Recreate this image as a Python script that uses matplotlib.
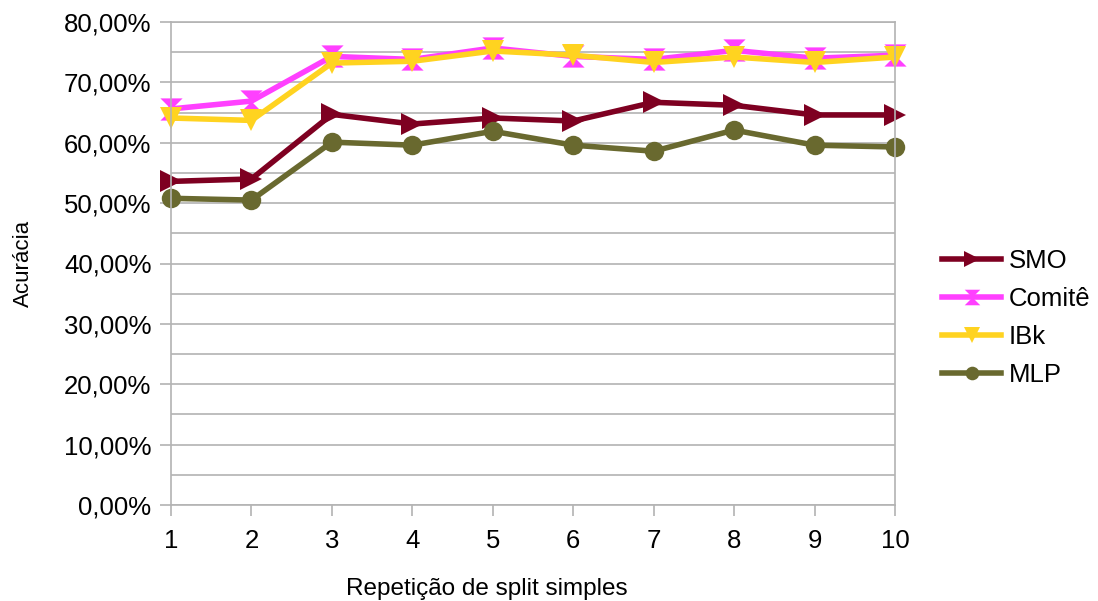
import numpy as np
import matplotlib.pyplot as plt
from matplotlib.ticker import FuncFormatter, MultipleLocator

plt.rcParams['font.family'] = ['Liberation Sans', 'DejaVu Sans']

# data (accuracy, %)
reps = np.arange(1, 11)
smo = [53.6, 54.0, 64.7, 63.1, 64.1, 63.6, 66.7, 66.2, 64.6, 64.6]
comite = [65.6, 66.9, 74.3, 73.8, 75.7, 74.3, 73.8, 75.3, 74.0, 74.5]
ibk = [64.1, 63.7, 73.2, 73.5, 75.2, 74.5, 73.3, 74.2, 73.3, 74.2]
mlp = [50.8, 50.5, 60.1, 59.6, 61.9, 59.6, 58.6, 62.1, 59.6, 59.3]

names = ["SMO", "Comitê", "IBk", "MLP"]
colors = ["#7e0021", "#ff40ff", "#ffd320", "#69692f"]

# hourglass marker like the spreadsheet one
hourglass = [(-1, 1), (1, 1), (0, 0), (1, -1), (-1, -1), (0, 0)]
markers = [">", hourglass, "v", "o"]
msizes = [16, 16, 16, 14]

fig = plt.figure(figsize=(10.98, 6.01), dpi=100)
ax = fig.add_axes([171/1098, 1 - 505/601, (895 - 171)/1098, (505 - 22)/601])

for vals, name, col, mk, ms in zip([smo, comite, ibk, mlp], names, colors, markers, msizes):
    ax.plot(reps, vals, color=col, lw=4, marker=mk, markersize=ms,
            markeredgewidth=0, label=name, clip_on=False)

ax.set_xlim(1, 10)
ax.set_ylim(0, 80)
ax.set_xticks(reps)
ax.yaxis.set_major_locator(MultipleLocator(10))
ax.yaxis.set_minor_locator(MultipleLocator(5))
ax.yaxis.set_major_formatter(FuncFormatter(lambda v, p: f"{v:.2f}%".replace(".", ",")))

grid_c = "#b3b3b3"
ax.grid(axis="y", which="both", color=grid_c, lw=1.2)
ax.set_axisbelow(True)
for s in ax.spines.values():
    s.set_color(grid_c)
    s.set_linewidth(1.2)
ax.tick_params(axis="both", which="major", length=8, width=1.2, color=grid_c,
               labelsize=18.5, pad=6)
ax.tick_params(axis="y", which="minor", length=0)
ax.tick_params(axis="x", pad=9)

ax.set_ylabel("Acurácia", fontsize=16, labelpad=22)
ax.set_xlabel("Repetição de split simples", fontsize=17.5, labelpad=20)
ax.xaxis.set_label_coords(0.436, -0.152)

fig.legend(loc="center left", bbox_to_anchor=(942/1098, 1 - 318/601), frameon=False,
           fontsize=18.5, markerscale=0.7, handlelength=2.3, handletextpad=0.3,
           labelspacing=0.55, borderpad=0, borderaxespad=0)

fig.savefig("out.png", dpi=100)
